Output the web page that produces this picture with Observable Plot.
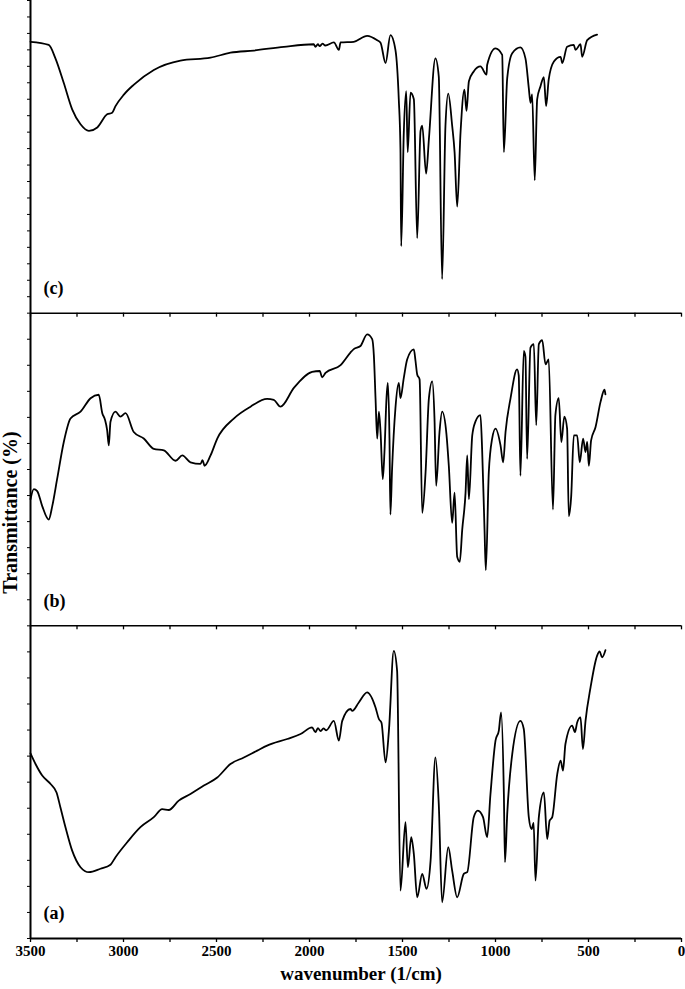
<!DOCTYPE html>
<html><head><meta charset="utf-8">
<script src="https://cdn.jsdelivr.net/npm/d3@7"></script>
<script src="https://cdn.jsdelivr.net/npm/@observablehq/plot@0.6"></script>
<style>body{margin:0;background:#fff} svg text{font-family:"Liberation Serif","Times New Roman",serif !important;}</style>
</head><body><div id="chart"></div>
<script>
// [wavenumber (1/cm), transmittance as % of panel height]
const spectrumA = [
[3500,59.2],[3473,55.8],[3437,52.1],[3392,49.4],[3360,46.7],[3339,41.9],[3312,35.6],[3276,28.1],[3231,22.8],[3186,21.2],
[3124,22.3],[3070,23.6],[3043,26],[2980,30.8],[2909,35.6],[2837,38.8],[2792,41.4],[2757,41.1],[2703,44.1],[2640,46.2],
[2568,48.9],[2496,51.5],[2425,55.8],[2353,57.9],[2281,60.1],[2228,61.7],[2120,63.8],[2048,65.4],[1986,67.5],[1968,66],
[1955,67.3],[1940,66.3],[1925,67.2],[1910,66.6],[1869,69.6],[1842,63.3],[1824,69.6],[1780,73.4],[1770,72.8],[1735,75.5],
[1690,78.7],[1645,73.9],[1627,70.2],[1613,69],[1591,56.3],[1573,66.5],[1547,92],[1529,85.6],[1511,15.3],[1484,37.2],
[1471,22.8],[1453,32.4],[1439,27],[1421,13.2],[1394,20.7],[1371,15.9],[1349,24.9],[1323,57.9],[1305,43],[1287,11.6],
[1254,29.2],[1233,21.7],[1206,13.2],[1170,20.7],[1152,21.2],[1117,38.8],[1095,40.9],[1067,38.8],[1045,32.4],[1027,46.2],
[1000,63.3],[982,66.5],[970,72.3],[955,46.2],[949,24.4],[937,39.8],[910,59],[866,69.6],[848,67],[821,38.8],
[806,35],[795,37],[785,18.5],[767,38.8],[740,46.7],[722,31.8],[709,37.7],[695,38.8],[668,52.6],[650,56.9],
[637,53.7],[624,62.2],[588,68.1],[573,66],[561,69.1],[543,70.7],[530,60.6],[516,69.6],[489,80.3],[454,90.4],
[440,91.8],[427,89.9],[409,92.2]
];
const spectrumB = [
[3500,40.5],[3482,43.7],[3464,43.1],[3437,38.3],[3402,34],[3383,38.3],[3357,46.9],[3321,58.8],[3285,66.3],[3231,68.5],
[3177,72.8],[3133,73.9],[3114,68],[3100,66],[3088,62.6],[3079,57.7],[3070,65.3],[3043,68.5],[3016,66.9],[2989,68],
[2945,62],[2891,59.9],[2837,56.6],[2783,56.1],[2720,52.8],[2684,54.5],[2640,52.3],[2586,51.8],[2575,53],[2564,51.2],
[2532,54.5],[2496,59.9],[2407,66.3],[2317,70.1],[2228,72.6],[2192,72.3],[2156,70.1],[2084,76.1],[1986,81.2],[1945,81.5],
[1932,79.5],[1914,80.9],[1833,83.4],[1780,87.4],[1762,88.5],[1726,89.5],[1690,93.2],[1663,91.7],[1654,86.5],[1645,72.8],
[1636,59.9],[1627,68.5],[1618,62],[1606,46.9],[1597,55.6],[1586,72.8],[1579,77.7],[1570,60],[1565,35.6],[1556,50.2],
[1538,69.6],[1520,77.7],[1511,72.8],[1493,79.3],[1475,85.2],[1439,88.4],[1430,84.7],[1421,80.4],[1408,78.8],[1394,36.1],
[1376,49.1],[1358,72.8],[1340,78.2],[1328,66.3],[1319,44.8],[1301,62],[1287,68.5],[1264,61.5],[1251,51.2],[1233,32.9],
[1220,42.6],[1206,22.1],[1192,20.5],[1179,30.7],[1161,42.6],[1152,54.5],[1143,40.5],[1125,60.9],[1108,65.3],[1081,67.4],
[1072,56.6],[1059,30.7],[1052,17.8],[1036,49.1],[1018,59.9],[1000,63.1],[973,57.7],[959,52.3],[946,62],[919,72.8],
[884,82],[875,80],[866,48],[848,87.9],[839,86],[830,53.4],[812,89],[794,90.1],[781,64.2],[767,90.1],
[749,91.4],[731,83.6],[714,85.2],[691,37.2],[678,67.4],[660,72.8],[646,58.8],[630,66.9],[615,63.1],[606,35.1],
[593,41.5],[579,60.9],[561,60.9],[547,52.3],[529,59.9],[516,55.6],[507,58.8],[498,51.2],[486,59.3],[462,63.6],
[435,71.7],[414,75.5],[409,74]
];
const spectrumC = [
[3500,86.8],[3402,85.8],[3366,81.5],[3321,73.6],[3276,65.2],[3231,60.4],[3186,58.3],[3141,59.4],[3088,63.6],[3061,64.1],
[3043,66.2],[2998,69.9],[2944,73.1],[2837,77.8],[2694,80.8],[2532,81.7],[2425,83.3],[2299,84],[2138,85.2],[1977,86],
[1968,85.2],[1955,86],[1945,85.4],[1930,86.2],[1915,85.6],[1869,86.6],[1842,84.2],[1833,86.6],[1762,86.8],[1690,88.7],
[1636,87.3],[1618,86.5],[1591,80],[1565,88.9],[1538,84.2],[1520,68.4],[1511,52.5],[1507,21.4],[1493,57.8],[1480,71],
[1472,51.5],[1457,70.5],[1439,68.4],[1421,24],[1403,58.3],[1394,60],[1373,44.6],[1358,55.7],[1323,81.5],[1305,75.7],
[1287,10.9],[1269,60],[1254,70.2],[1233,60],[1220,51.5],[1206,34.1],[1188,57.8],[1167,71.5],[1156,64.7],[1143,74.2],
[1117,77.3],[1081,78.9],[1048,76.3],[1045,79.4],[1000,84.7],[964,82.6],[955,51.5],[937,75.2],[910,83.1],[866,85],
[839,81.5],[821,72],[812,67.3],[803,70],[789,42.5],[776,68.4],[758,72.6],[740,75.5],[728,66.2],[714,74.7],
[686,80.5],[650,82],[641,80],[615,85.2],[579,85.8],[570,84.2],[543,86],[534,82],[507,87.3],[454,89.1]
];
const panelLabels = ["(a)", "(b)", "(c)"];            // bottom to top
const panelTickCounts = [12, 12, 19];                 // minor y ticks per panel
const xTickValues = [3500,3250,3000,2750,2500,2250,2000,1750,1500,1250,1000,750,500,250,0];
const xTickLabels = ["3500","","3000","","2500","","2000","","1500","","1000","","500","","0"];
const xLabel = "wavenumber (1/cm)";
const yLabel = "Transmittance (%)";

const serif = "Liberation Serif";
const spectra = [spectrumA, spectrumB, spectrumC];
const rows = [];
spectra.forEach((s, i) => s.forEach(([w, t]) => rows.push({panel: panelLabels[i], w, y: i * 100 + t})));
const yTicks = [];
panelTickCounts.forEach((n, i) => { for (let k = 0; k < n; k++) yTicks.push(i * 100 + k * 100 / n); });
yTicks.push(300);
const sepTicks = [];
[100, 200].forEach(y => xTickValues.forEach(w => sepTicks.push({w, y})));
const labelRows = panelLabels.map((t, i) => ({t, y: i * 100 + 8}));
const fmt = d => xTickLabels[xTickValues.indexOf(d)];

const plot = Plot.plot({
  width: 685, height: 989,
  marginLeft: 30, marginRight: 4, marginTop: 0, marginBottom: 51,
  x: {domain: [3500, 0], label: null},
  y: {domain: [0, 300], label: null},
  style: {fontFamily: serif, color: "#000", background: "#fff"},
  marks: [
    Plot.ruleY([100, 200], {stroke: "#000", strokeWidth: 1.5}),
    Plot.ruleX(sepTicks, {x: "w", y1: "y", y2: "y", insetBottom: -4, stroke: "#000", strokeWidth: 1.3}),
    Plot.axisX(xTickValues, {tickSize: 4, tickPadding: 3, tickFormat: fmt, fontSize: 15, fontWeight: "bold", fontFamily: serif, strokeWidth: 1.3, label: null}),
    Plot.axisY(yTicks, {tickSize: 3, tickFormat: () => "", strokeWidth: 1, label: null}),
    Plot.ruleY([0], {stroke: "#000", strokeWidth: 2}),
    Plot.ruleX([3500], {stroke: "#000", strokeWidth: 2}),
    Plot.line(rows, {x: "w", y: "y", z: "panel", curve: "monotone-x", stroke: "#000", strokeWidth: 1.8, strokeLinejoin: "round"}),
    Plot.text(labelRows, {x: 3430, y: "y", text: "t", textAnchor: "start", fontSize: 18, fontWeight: "bold", fontFamily: serif}),
    Plot.text([xLabel], {frameAnchor: "bottom", textAnchor: "middle", lineAnchor: "middle", dx: 5, dy: 35, fontSize: 19, fontWeight: "bold", fontFamily: serif}),
    Plot.text([yLabel], {frameAnchor: "left", textAnchor: "middle", lineAnchor: "middle", rotate: -90, dx: -20, dy: 43, fontSize: 20, fontWeight: "bold", fontFamily: serif})
  ]
});
document.getElementById("chart").appendChild(plot);
</script>
</body></html>
